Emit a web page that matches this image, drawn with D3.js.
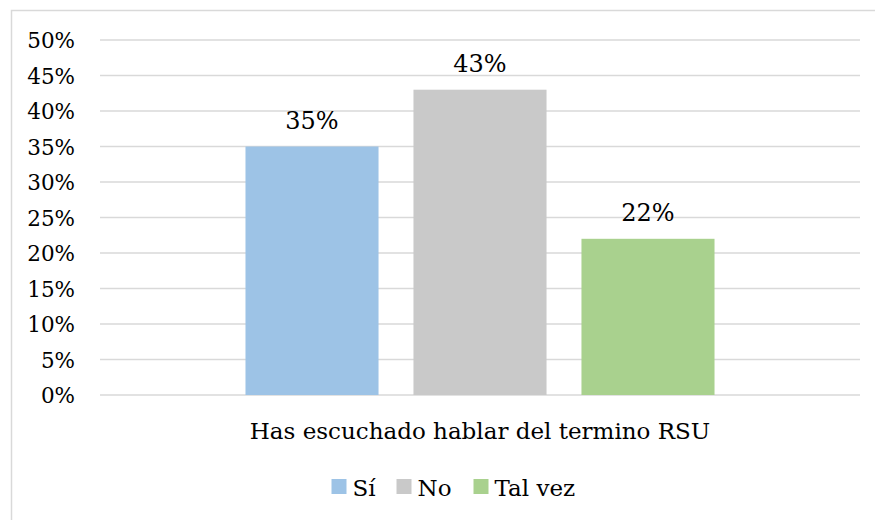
<!DOCTYPE html>
<html>
<head>
<meta charset="utf-8">
<script src="https://cdn.jsdelivr.net/npm/d3@7"></script>
</head>
<body style="margin:0">
<div id="chart"></div>
<script>
// chart data
let categories = ["Has escuchado hablar del termino RSU"];
let seriesNames = ["Sí", "No", "Tal vez"];
let seriesValues = [0.35, 0.43, 0.22];
let seriesColors = ["#9dc3e6", "#c9c9c9", "#a9d18e"];
let yTicks = [0, 0.05, 0.10, 0.15, 0.20, 0.25, 0.30, 0.35, 0.40, 0.45, 0.50];

// Liberation Serif / serif fall back to sans here, DejaVu Serif does not
let fontName = "DejaVu Serif";

let svgWidth = 875;
let svgHeight = 520;

let chartMargin = { top: 40, right: 15, bottom: 125, left: 100 };
let chartWidth = svgWidth - chartMargin.left - chartMargin.right;
let chartHeight = svgHeight - chartMargin.top - chartMargin.bottom;

let svg = d3.select("#chart")
    .append("svg")
    .attr("width", svgWidth)
    .attr("height", svgHeight);

// chart area border (only left/top edges fall inside the picture)
svg.append("rect")
    .attr("x", 11.5)
    .attr("y", 10.5)
    .attr("width", 900)
    .attr("height", 600)
    .attr("fill", "none")
    .attr("stroke", "#d9d9d9")
    .attr("stroke-width", 1.5);

let chartGroup = svg.append("g")
    .attr("transform", `translate(${chartMargin.left}, ${chartMargin.top})`);

let yScale = d3.scaleLinear()
    .domain([0, 0.5])
    .range([chartHeight, 0]);

let x0 = d3.scaleBand()
    .domain(categories)
    .range([0, chartWidth]);

let x1 = d3.scaleBand()
    .domain(seriesNames)
    .range([0, x0.bandwidth()])
    .paddingInner(0.208)
    .paddingOuter(0.866);

// gridlines
chartGroup.selectAll(".grid")
    .data(yTicks)
    .enter()
    .append("line")
    .attr("class", "grid")
    .attr("x1", 0)
    .attr("x2", chartWidth)
    .attr("y1", d => yScale(d))
    .attr("y2", d => yScale(d))
    .attr("stroke", "#d9d9d9")
    .attr("stroke-width", 1.5);

// y axis labels
let leftAxis = d3.axisLeft(yScale)
    .tickValues(yTicks)
    .tickFormat(d3.format(".0%"))
    .tickSize(0)
    .tickPadding(25);

let yaxis = chartGroup.append("g")
    .call(leftAxis)
    .attr("font-family", null)
    .attr("font-size", null);
yaxis.select(".domain").remove();
yaxis.selectAll("text")
    .attr("font-family", fontName)
    .attr("font-size", 21.5)
    .attr("dy", "0.36em")
    .attr("fill", "#000");

// bars
let data = seriesNames.map((name, i) => ({ name: name, value: seriesValues[i], color: seriesColors[i] }));

let catGroup = chartGroup.append("g")
    .attr("transform", `translate(${x0(categories[0])}, 0)`);

catGroup.selectAll("rect")
    .data(data)
    .enter()
    .append("rect")
    .attr("x", d => x1(d.name))
    .attr("y", d => yScale(d.value))
    .attr("width", x1.bandwidth())
    .attr("height", d => chartHeight - yScale(d.value))
    .attr("fill", d => d.color);

catGroup.selectAll(".valueLabel")
    .data(data)
    .enter()
    .append("text")
    .attr("class", "valueLabel")
    .attr("x", d => x1(d.name) + x1.bandwidth() / 2)
    .attr("y", d => yScale(d.value) - 18)
    .attr("text-anchor", "middle")
    .attr("font-family", fontName)
    .attr("font-size", 24)
    .text(d => d3.format(".0%")(d.value));

// category label
chartGroup.append("text")
    .attr("x", x0(categories[0]) + x0.bandwidth() / 2)
    .attr("y", chartHeight + 44)
    .attr("text-anchor", "middle")
    .attr("font-family", fontName)
    .attr("font-size", 23)
    .text(categories[0]);

// legend
let legendX = [331.5, 396.5, 473.5];
let legendItems = svg.append("g")
    .selectAll("g")
    .data(data)
    .enter()
    .append("g")
    .attr("transform", (d, i) => `translate(${legendX[i]}, 479)`);

legendItems.append("rect")
    .attr("width", 15)
    .attr("height", 15)
    .attr("fill", d => d.color);

legendItems.append("text")
    .attr("x", 21)
    .attr("y", 17)
    .attr("font-family", fontName)
    .attr("font-size", 23)
    .text(d => d.name);
</script>
</body>
</html>
